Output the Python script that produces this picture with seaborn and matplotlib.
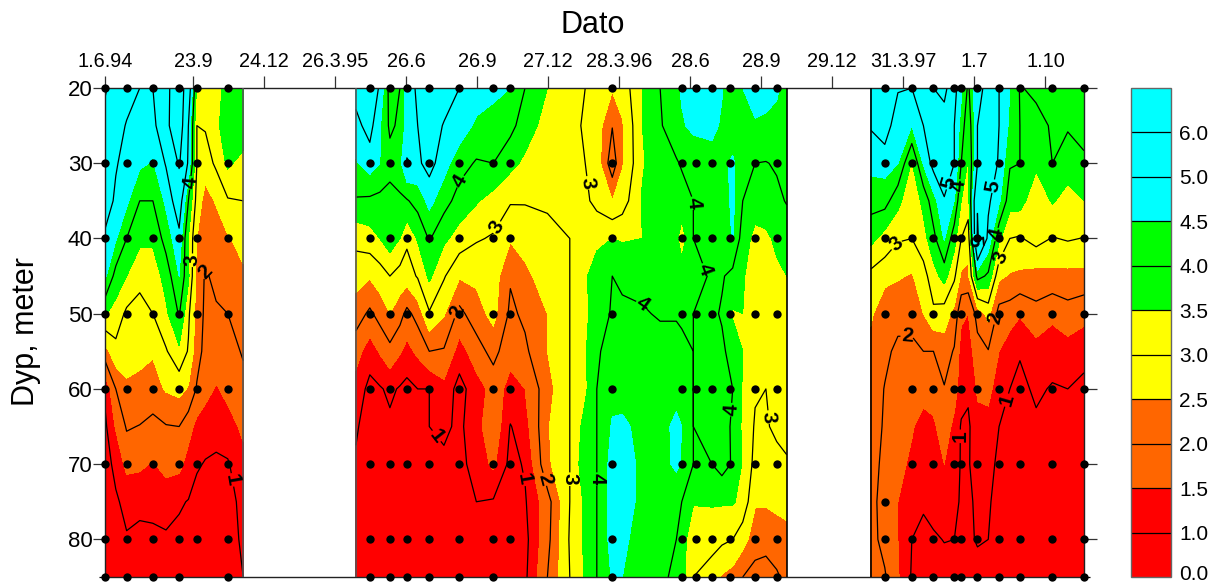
import numpy as np
import pandas as pd
import matplotlib
matplotlib.use("Agg")
import matplotlib.pyplot as plt
from matplotlib.transforms import ScaledTranslation
import seaborn as sns

sns.set_style("white")
plt.rcParams["font.family"] = ["Liberation Sans", "DejaVu Sans"]
plt.rcParams["text.color"] = "black"
plt.rcParams["xtick.color"] = "black"
plt.rcParams["ytick.color"] = "black"

tick_dates = ["1994-06-01", "1994-09-23", "1994-12-24", "1995-03-26", "1995-06-26", "1995-09-26",
              "1995-12-27", "1996-03-28", "1996-06-28", "1996-09-28", "1996-12-29", "1997-03-31",
              "1997-07-01", "1997-10-01"]
tick_labels = ["1.6.94", "23.9", "24.12", "26.3.95", "26.6", "26.9", "27.12", "28.3.96", "28.6",
               "28.9", "29.12", "31.3.97", "1.7", "1.10"]
depths = [20, 25, 30, 35, 40, 45, 50, 55, 60, 65, 70, 75, 80, 85]
levels = [0.0, 1.0, 1.5, 2.0, 2.5, 3.0, 3.5, 4.0, 4.5, 5.0, 6.0, 7.0]
band_colors = ["#FF0000", "#FF0000", "#FF6600", "#FF6600", "#FFFF00", "#FFFF00",
               "#00FF00", "#00FF00", "#00FFFF", "#00FFFF", "#00FFFF"]
line_levels = [1, 2, 3, 4, 5, 6]

seg1_days = [0, 14, 28, 45, 62, 79, 96, 108, 119, 130, 144, 159, 179]
seg1_values = [
    [6.1, 5.6, 5.3, 5.0, 5.0, 5.8, 6.5, 5.5, 3.4, 3.0, 3.3, 3.7, 3.9],
    [5.7, 5.3, 4.95, 4.7, 4.75, 5.8, 6.6, 5.0, 3.0, 3.05, 3.35, 3.9, 3.9],
    [5.5, 5.05, 4.8, 4.6, 4.45, 5.05, 6.1, 4.9, 3.0, 2.75, 3.1, 3.6, 3.3],
    [5.3, 4.9, 4.6, 4.0, 4.0, 4.6, 5.4, 4.0, 2.8, 2.3, 2.55, 2.95, 3.0],
    [4.9, 4.55, 4.0, 3.6, 3.6, 4.2, 4.85, 3.5, 2.5, 2.3, 2.2, 2.45, 2.7],
    [4.6, 3.8, 3.5, 3.2, 3.2, 3.7, 4.5, 3.6, 2.3, 1.95, 2.1, 2.2, 2.4],
    [3.55, 3.3, 2.9, 2.75, 3.0, 3.4, 4.05, 3.1, 2.3, 1.9, 1.95, 2.0, 2.25],
    [2.3, 2.85, 2.75, 2.6, 2.55, 2.95, 3.4, 2.95, 2.2, 1.85, 1.8, 1.8, 2.05],
    [1.1, 2.0, 2.4, 2.4, 2.3, 2.55, 2.65, 2.45, 1.95, 1.7, 1.45, 1.65, 1.85],
    [0.9, 1.55, 2.05, 1.98, 1.85, 1.97, 2.0, 1.7, 1.35, 1.2, 1.15, 1.3, 1.6],
    [0.85, 1.1, 1.65, 1.6, 1.45, 1.7, 1.65, 1.3, 1.05, 0.97, 0.93, 0.95, 1.35],
    [0.75, 0.95, 1.1, 1.1, 1.2, 1.15, 1.05, 0.98, 0.85, 0.8, 0.75, 0.75, 1.2],
    [1.03, 0.8, 0.97, 0.9, 0.85, 0.95, 0.9, 0.8, 0.75, 0.7, 0.7, 0.75, 1.1],
    [0.8, 0.8, 0.8, 0.8, 0.8, 0.8, 0.8, 0.8, 0.8, 0.8, 0.8, 0.8, 1.0],
]

seg2_days = [325, 343, 356, 369, 382, 391, 405, 420, 439, 459, 481, 503, 525, 544, 573, 602, 622, 637,
             657, 670, 696, 719, 740, 747, 762, 786, 799, 813, 826, 842, 856, 870, 883]
seg2_values = [
    [5.2, 5.6, 4.9, 3.8, 4.0, 4.7, 5.1, 5.6, 5.4, 5.0, 4.8, 4.7, 4.5, 4.0, 3.5, 3.2, 3.0, 2.8, 2.55, 2.7, 3.5,
     4.0, 4.4, 4.55, 4.7, 4.7, 4.55, 4.1, 4.5, 4.7, 4.7, 4.6, 4.2],
    [4.85, 5.2, 4.55, 3.9, 4.1, 4.7, 5.0, 5.4, 4.95, 4.8, 4.4, 4.2, 4.15, 3.75, 3.3, 3.05, 2.98, 2.75, 2.02, 2.45, 3.5,
     3.95, 4.3, 4.45, 4.6, 4.7, 4.4, 4.1, 4.2, 4.45, 4.4, 4.3, 4.05],
    [4.45, 4.75, 4.5, 4.2, 4.35, 5.05, 4.9, 5.2, 4.7, 4.2, 3.95, 4.0, 3.65, 3.4, 3.15, 3.05, 3.0, 2.75, 1.7, 2.45, 3.45,
     3.8, 3.95, 4.05, 4.2, 4.2, 4.35, 4.6, 4.15, 4.0, 3.98, 4.05, 4.15],
    [3.95, 3.9, 3.85, 3.8, 3.9, 3.95, 4.2, 4.65, 4.2, 3.8, 3.55, 3.3, 3.05, 3.03, 3.05, 3.15, 3.1, 2.85, 2.5, 2.75, 3.55,
     3.85, 3.85, 3.8, 4.0, 4.2, 4.25, 4.6, 4.0, 3.75, 3.8, 3.9, 4.03],
    [3.15, 3.3, 3.5, 3.8, 3.5, 3.1, 3.55, 4.05, 3.6, 3.3, 3.05, 2.95, 2.55, 2.75, 2.9, 3.0, 3.25, 3.4, 3.5, 3.45, 3.5,
     3.7, 3.6, 3.25, 4.0, 4.1, 4.0, 4.55, 3.75, 3.35, 3.4, 3.6, 3.75],
    [2.7, 2.55, 2.75, 3.0, 2.8, 2.75, 3.05, 3.6, 3.05, 2.55, 2.6, 2.75, 2.05, 2.35, 2.8, 3.0, 3.45, 3.7, 4.0, 3.9, 3.85,
     4.0, 3.85, 3.75, 3.85, 4.05, 4.05, 3.85, 3.55, 3.25, 3.3, 3.4, 3.5],
    [2.25, 1.9, 2.2, 2.5, 2.2, 1.85, 2.2, 2.95, 2.55, 1.85, 2.3, 2.65, 1.9, 2.1, 2.5, 3.0, 3.4, 3.75, 4.05, 4.1, 4.05,
     3.95, 3.95, 3.9, 4.0, 4.1, 3.95, 3.45, 3.5, 3.1, 3.15, 3.2, 3.3],
    [1.7, 1.25, 1.55, 1.85, 1.55, 1.35, 1.6, 2.0, 1.95, 1.3, 1.75, 2.2, 1.6, 1.9, 2.5, 3.0, 3.45, 3.95, 4.15, 4.2, 4.2,
     4.2, 4.2, 4.15, 4.0, 4.1, 4.1, 3.8, 3.5, 3.1, 3.15, 3.2, 3.3],
    [1.3, 0.85, 0.95, 1.1, 0.95, 0.85, 1.0, 1.0, 1.35, 0.8, 1.3, 1.65, 1.4, 1.5, 2.3, 3.0, 3.4, 4.0, 4.35, 4.3, 4.3,
     4.25, 4.35, 4.3, 4.0, 4.05, 4.2, 4.0, 3.45, 3.05, 3.0, 3.2, 3.3],
    [1.05, 0.8, 0.85, 0.9, 0.85, 0.8, 0.9, 1.0, 1.1, 0.9, 1.3, 1.9, 0.97, 1.3, 2.45, 3.0, 3.7, 4.0, 4.55, 4.6, 4.35,
     4.35, 4.6, 4.5, 4.0, 4.2, 4.15, 3.95, 3.4, 2.95, 2.95, 3.1, 3.15],
    [0.95, 0.75, 0.78, 0.8, 0.8, 0.75, 0.8, 0.8, 0.9, 0.85, 1.2, 1.6, 0.85, 1.05, 2.4, 3.0, 3.85, 4.0, 4.7, 4.8, 4.35,
     4.3, 4.6, 4.45, 4.0, 4.0, 4.2, 3.95, 3.45, 2.85, 2.8, 2.85, 2.95],
    [0.9, 0.7, 0.72, 0.75, 0.75, 0.7, 0.75, 0.8, 0.75, 0.8, 1.0, 0.95, 0.8, 0.95, 1.8, 3.0, 3.6, 4.0, 4.7, 4.85, 4.3,
     4.2, 4.15, 4.0, 3.55, 3.55, 3.55, 3.55, 3.35, 2.55, 2.55, 2.65, 2.7],
    [0.85, 0.7, 0.72, 0.72, 0.72, 0.7, 0.72, 1.02, 0.75, 0.75, 0.9, 0.8, 0.8, 0.85, 1.85, 3.05, 3.6, 4.0, 4.7, 4.65, 4.2,
     4.05, 4.0, 3.8, 3.05, 3.2, 3.1, 3.0, 2.7, 2.25, 2.2, 2.2, 2.3],
    [0.8, 0.8, 0.8, 0.8, 0.8, 0.8, 0.8, 0.8, 0.8, 0.8, 0.8, 0.8, 0.8, 0.9, 2.0, 3.0, 3.55, 4.0, 4.55, 4.5, 4.3,
     4.05, 3.95, 3.7, 3.0, 2.75, 2.45, 2.3, 2.0, 1.8, 1.75, 1.95, 2.1],
]

seg3_days = [992, 1010, 1027, 1045, 1060, 1073, 1087, 1100, 1109, 1118, 1130, 1144, 1158, 1172, 1185, 1206, 1227, 1247, 1268]
seg3_values = [
    [5.3, 5.6, 5.05, 5.0, 5.5, 6.0, 6.3, 5.2, 4.6, 3.9, 4.9, 5.1, 5.0, 4.5, 3.97, 4.1, 4.3, 4.35, 4.3],
    [5.05, 5.3, 4.65, 4.5, 5.0, 6.0, 5.5, 5.0, 4.3, 3.6, 5.0, 5.3, 5.0, 4.4, 4.0, 3.85, 4.05, 4.05, 4.1],
    [4.65, 4.7, 4.5, 3.45, 4.55, 5.2, 5.4, 5.0, 4.0, 3.45, 5.0, 5.3, 4.95, 4.05, 4.0, 3.6, 4.0, 3.75, 3.95],
    [4.2, 4.2, 3.65, 3.1, 3.65, 4.3, 4.95, 4.5, 3.5, 3.3, 5.95, 5.1, 4.6, 3.7, 3.7, 3.15, 3.55, 3.3, 3.5],
    [3.65, 3.3, 3.05, 3.0, 3.3, 3.85, 4.55, 3.7, 3.0, 2.7, 6.1, 4.85, 3.6, 3.0, 2.95, 3.2, 2.97, 3.05, 2.98],
    [2.85, 2.7, 2.55, 2.45, 2.8, 3.3, 3.7, 3.1, 2.4, 2.4, 4.2, 3.9, 2.6, 2.45, 2.4, 2.3, 2.35, 2.35, 2.35],
    [2.6, 2.05, 2.15, 2.15, 2.5, 2.9, 2.75, 2.35, 1.6, 1.5, 2.2, 2.65, 1.8, 1.75, 1.55, 1.85, 1.6, 1.8, 1.65],
    [2.3, 2.1, 1.9, 1.9, 2.0, 2.0, 2.25, 1.95, 1.3, 1.25, 1.8, 1.97, 1.5, 1.2, 1.05, 1.3, 1.25, 1.3, 1.2],
    [2.25, 1.98, 1.85, 1.8, 1.7, 1.75, 1.97, 1.75, 1.2, 1.1, 1.55, 1.75, 1.05, 1.0, 0.85, 1.1, 0.95, 1.0, 0.85],
    [2.2, 1.95, 1.75, 1.55, 1.3, 1.4, 1.8, 1.35, 0.95, 0.9, 1.4, 1.2, 1.0, 0.9, 0.8, 0.9, 0.9, 0.85, 0.8],
    [2.15, 1.9, 1.65, 1.4, 1.3, 1.35, 1.5, 1.25, 0.95, 0.95, 1.25, 1.15, 0.9, 0.85, 0.8, 0.8, 0.8, 0.8, 0.8],
    [2.15, 1.8, 1.5, 1.15, 1.05, 1.2, 1.15, 1.1, 0.95, 0.9, 1.1, 1.05, 0.85, 0.8, 0.8, 0.8, 0.8, 0.8, 0.8],
    [2.15, 1.85, 1.5, 1.0, 0.9, 0.93, 1.02, 1.0, 1.0, 0.9, 1.05, 1.0, 0.8, 0.8, 0.8, 0.8, 0.8, 0.8, 0.8],
    [2.2, 2.05, 1.55, 0.95, 0.8, 0.8, 0.8, 0.8, 0.8, 0.8, 0.8, 0.8, 0.8, 0.8, 0.8, 0.8, 0.8, 0.8, 0.8],
]

sample_days = [0, 28, 62, 96, 119, 159, 343, 369, 391, 420, 459, 503, 525, 657, 747, 766, 786, 810, 842, 870,
               1010, 1045, 1073, 1100, 1109, 1130, 1158, 1185, 1227, 1268]
sample_rows = [20, 30, 40, 50, 60, 70, 80, 85]
missing_samples = {(119, 85), (525, 85), (1010, 60), (1010, 70)}
extra_samples = [(1010, 75)]

label_spots = [
    [(110, 32.6), (113, 42.9), (130, 44.5), (170, 72)],
    [(468, 33), (496, 37.8), (456, 49.8), (429, 66.3), (544, 72), (570, 72), (604, 72), (636, 72),
     (626, 32.6), (763, 35.3), (725, 45.7), (786, 43.8), (817, 62.8), (854, 63.8)],
    [(1027, 41), (1039, 50.9), (1092, 32.6), (1105, 33), (1148, 33), (1160, 39.6), (1127, 40.3),
     (1160, 42.6), (1155, 50.6), (1108, 66.3), (1158, 61.2)],
]

W, H = 1220, 587
fig = plt.figure(figsize=(W / 100, H / 100), dpi=100)
ax = fig.add_axes([105 / W, 1 - 577 / H, (1084 - 105) / W, (577 - 88) / H])
cax = fig.add_axes([1131 / W, 1 - 577 / H, 40 / W, (577 - 88) / H])
ax.set_xlim(0, 1268)
ax.set_ylim(85, 20)

first = None
segments = [(seg1_days, seg1_values), (seg2_days, seg2_values), (seg3_days, seg3_values)]
for (days, values), spots in zip(segments, label_spots):
    X, Y = np.meshgrid(days, depths)
    Z = np.array(values)
    cf = ax.contourf(X, Y, Z, levels=levels, colors=band_colors)
    first = first or cf
    cs = ax.contour(X, Y, Z, levels=line_levels, colors="black", linewidths=0.9)
    labs = ax.clabel(cs, fmt="%d", fontsize=15, inline=True, inline_spacing=1, manual=spots)
    for t in labs:
        t.set_fontweight("bold")
        t.set_color("black")

for edge, col in [(seg1_days[-1], "#555555"), (seg2_days[0], "#555555"), (seg2_days[-1], "black"), (seg3_days[0], "black")]:
    ax.axvline(edge, color=col, lw=1.2, zorder=3)

rows = [(d, r) for d in sample_days for r in sample_rows if (d, r) not in missing_samples] + extra_samples
dots = pd.DataFrame(rows, columns=["day", "depth"])
sns.scatterplot(data=dots, x="day", y="depth", ax=ax, color="black", s=36, linewidth=0,
                clip_on=False, zorder=5, legend=False)

ax.set_xlim(0, 1268)
ax.set_ylim(85, 20)
ax.set_xlabel("")
ax.set_ylabel("")
tick_days = (pd.to_datetime(tick_dates) - pd.Timestamp(tick_dates[0])).days.values
ax.xaxis.tick_top()
ax.set_xticks(tick_days)
ax.set_xticklabels(tick_labels, fontsize=14.3)
ax.set_yticks([20, 30, 40, 50, 60, 70, 80])
ax.set_yticks([85], minor=True)
ax.tick_params(axis="x", which="major", direction="out", length=9, width=0.9, color="#333333", pad=3, top=True, bottom=False)
ax.tick_params(axis="y", which="major", direction="out", length=9, width=0.9, color="#333333", pad=0,
               left=True, right=True, labelsize=16)
ax.tick_params(axis="y", which="minor", direction="out", length=4, width=0.9, left=True, right=True)
for spine in ax.spines.values():
    spine.set_visible(True)
    spine.set_color("#222222")
    spine.set_linewidth(1.0)

cbar = fig.colorbar(first, cax=cax, ticks=levels[:-1], drawedges=True, spacing="uniform")
cbar.ax.set_yticklabels([f"{v:.1f}" for v in levels[:-1]], fontsize=15)
cbar.ax.tick_params(length=0, pad=6, right=True)
cbar.dividers.set_color("black")
cbar.dividers.set_linewidth(0.9)
cbar.outline.set_edgecolor("#666666")
cbar.outline.set_linewidth(1.0)
zero_label = cbar.ax.get_yticklabels()[0]
zero_label.set_transform(zero_label.get_transform() + ScaledTranslation(0, 5 / 100, fig.dpi_scale_trans))

fig.text(593 / W, 1 - 25 / H, "Dato", fontsize=22, ha="center", va="center")
fig.text(26 / W, 1 - 331 / H, "Dyp, meter", fontsize=22, ha="center", va="center", rotation=90)

fig.savefig("out.png", dpi=100)
